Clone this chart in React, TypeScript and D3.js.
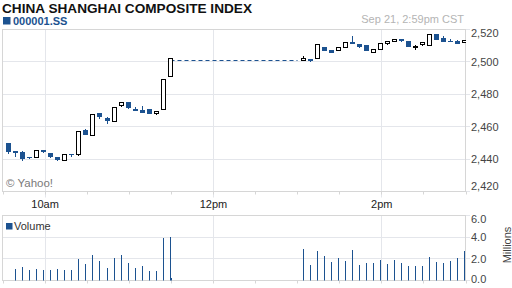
import React from "react";
import * as d3 from "d3";

// ---------- data ----------
const title = "CHINA SHANGHAI COMPOSITE INDEX";
const symbol = "000001.SS";
const timestamp = "Sep 21, 2:59pm CST";
const credit = "© Yahoo!";
const volumeLabel = "Volume";
const volumeUnit = "Millions";

const sessionStart = "09:30";
const sessionEnd = "15:00";
const amStart = "09:30";
const pmStart = "13:00";
const lunchStart = "11:30";
const barMinutes = 5;

// [open, high, low, close]
const amCandles: [number, number, number, number][] = [
  [2450.0, 2450.0, 2443.4, 2444.5],
  [2444.7, 2445.2, 2441.0, 2443.6],
  [2444.2, 2444.8, 2439.0, 2440.1],
  [2441.2, 2441.2, 2439.9, 2440.6],
  [2440.9, 2445.2, 2440.9, 2445.2],
  [2445.4, 2445.6, 2444.0, 2444.0],
  [2443.8, 2443.8, 2440.7, 2441.6],
  [2441.1, 2441.1, 2438.6, 2439.0],
  [2439.3, 2443.1, 2439.3, 2443.1],
  [2443.4, 2443.4, 2441.6, 2442.9],
  [2442.8, 2457.0, 2442.1, 2457.0],
  [2457.8, 2458.6, 2454.6, 2454.6],
  [2454.7, 2467.7, 2454.7, 2467.7],
  [2468.3, 2468.3, 2464.9, 2465.6],
  [2465.2, 2466.2, 2461.9, 2463.1],
  [2463.3, 2472.0, 2463.3, 2472.0],
  [2473.2, 2475.1, 2472.3, 2475.1],
  [2475.1, 2475.1, 2471.2, 2471.2],
  [2470.9, 2472.3, 2469.9, 2469.9],
  [2470.3, 2472.9, 2468.6, 2468.6],
  [2470.9, 2470.9, 2468.1, 2468.1],
  [2468.1, 2469.5, 2467.4, 2469.5],
  [2470.7, 2489.3, 2470.7, 2489.3],
  [2491.1, 2502.2, 2491.1, 2502.2],
];

const pmCandles: [number, number, number, number][] = [
  [2500.6, 2503.6, 2500.6, 2502.0],
  [2501.6, 2501.8, 2500.2, 2500.2],
  [2502.1, 2510.9, 2502.1, 2510.9],
  [2509.5, 2509.5, 2506.9, 2506.9],
  [2507.5, 2507.5, 2505.2, 2505.9],
  [2507.0, 2509.4, 2507.0, 2508.6],
  [2509.0, 2512.1, 2509.0, 2512.1],
  [2512.0, 2516.0, 2511.0, 2511.0],
  [2511.0, 2511.0, 2508.4, 2509.3],
  [2510.3, 2510.3, 2506.7, 2506.7],
  [2505.8, 2507.8, 2505.8, 2507.8],
  [2507.7, 2511.5, 2507.7, 2511.5],
  [2511.4, 2512.7, 2510.2, 2512.7],
  [2512.6, 2514.0, 2512.6, 2514.0],
  [2514.0, 2514.0, 2512.0, 2513.0],
  [2513.1, 2513.1, 2508.9, 2509.6],
  [2508.6, 2510.4, 2507.5, 2509.3],
  [2510.6, 2511.9, 2510.0, 2511.9],
  [2510.7, 2517.2, 2510.7, 2517.2],
  [2517.3, 2517.3, 2513.4, 2513.4],
  [2514.9, 2515.7, 2512.7, 2512.7],
  [2513.2, 2514.0, 2512.4, 2512.4],
  [2513.2, 2513.7, 2511.4, 2511.4],
  [2512.0, 2513.3, 2512.0, 2513.3],
];

// millions of shares
const amVolume = [
  0, 1.09, 1.27, 1.0, 1.09, 1.0, 1.0, 1.09, 1.0, 1.0, 1.98, 1.55,
  2.38, 1.83, 1.18, 2.08, 2.38, 1.64, 1.18, 1.37, 0.9, 0.9, 3.92, 4.04,
];
const pmVolume = [
  2.91, 1.43, 2.75, 2.29, 1.74, 2.08, 1.83, 2.82, 1.43, 1.64, 1.64, 1.89,
  1.55, 1.89, 1.64, 1.37, 1.37, 1.37, 2.17, 1.74, 1.64, 1.83, 2.08, 2.72,
];
const lunchVolume = 0.1;
const lunchLevel = 2500.7;

const priceDomain = [2420, 2520];
const priceTicks = [2420, 2440, 2460, 2480, 2500, 2520];
const volumeDomain = [0, 6];
const volumeTicks = [0, 2, 4, 6];
const timeLabels = [
  { t: "10:00", label: "10am" },
  { t: "12:00", label: "12pm" },
  { t: "14:00", label: "2pm" },
];
const minorTickMinutes = 30;

// ---------- styles ----------
const BLUE = "#1c5290";
const GRID = "#e4e6eb";
const BORDER = "#d6d6d6";
const FONT = "Arial, 'Liberation Sans', sans-serif";

export default function App() {
  const parse = d3.timeParse("%H:%M");
  const plotLeft = 3;
  const plotRight = 466;
  const priceTop = 29.5;
  const priceBottom = 191.5;
  const volTop = 215.5;
  const volBottom = 280.5;
  const labelX = 471;

  const x = d3
    .scaleTime()
    .domain([parse(sessionStart)!, parse(sessionEnd)!])
    .range([plotLeft, plotRight]);
  const y = d3.scaleLinear().domain(priceDomain).range([priceBottom, priceTop]);
  const yv = d3.scaleLinear().domain(volumeDomain).range([volBottom, volTop]);

  const barOffset = 5.3;
  const px = (v: number) => Math.floor(v) + 0.5;
  const barTime = (start: string, i: number) =>
    d3.timeMinute.offset(parse(start)!, i * barMinutes);
  const cxOf = (start: string, i: number) =>
    Math.round(x(barTime(start, i)) + barOffset) + 0.5;

  const minorTicks = d3.timeMinute
    .every(minorTickMinutes)!
    .range(parse(sessionStart)!, d3.timeMinute.offset(parse(sessionEnd)!, 1));

  const renderCandles = (data: [number, number, number, number][], start: string, key: string) =>
    data.map(([o, h, l, c], i) => {
      const cx = cxOf(start, i);
      const up = c >= o;
      const top = y(Math.max(o, c));
      const bot = y(Math.min(o, c));
      const hgt = Math.max(1, Math.round(bot - top));
      return (
        <g key={key + i}>
          <line
            x1={cx}
            x2={cx}
            y1={Math.round(y(h))}
            y2={Math.round(y(l))}
            stroke={up ? "#000" : BLUE}
            strokeWidth={1}
          />
          {up ? (
            <rect
              x={cx - 2}
              y={px(top)}
              width={4}
              height={hgt}
              fill="#fff"
              stroke="#000"
              strokeWidth={1}
            />
          ) : (
            <rect x={cx - 2.5} y={Math.round(top)} width={5} height={hgt} fill={BLUE} />
          )}
        </g>
      );
    });

  const renderVolume = (data: number[], start: string, key: string) =>
    data.map((v, i) =>
      v > 0 ? (
        <line
          key={key + i}
          x1={cxOf(start, i)}
          x2={cxOf(start, i)}
          y1={volBottom}
          y2={Math.round(yv(v))}
          stroke={BLUE}
          strokeWidth={1}
        />
      ) : null
    );

  const lastAm = cxOf(amStart, amCandles.length - 1);
  const lunchX = px(x(parse(lunchStart)!));

  return (
    <svg
      width={512}
      height={288}
      style={{ position: "absolute", left: 0, top: 0, background: "#fff" }}
      fontFamily={FONT}
    >
      <defs>
        <clipPath id="plotClip">
          <rect x={plotLeft} y={0} width={plotRight - plotLeft} height={288} />
        </clipPath>
      </defs>
      <rect width={512} height={288} fill="#fff" />

      {/* header */}
      <text
        x={2}
        y={12.5}
        fontSize={13.5}
        fontWeight="bold"
        fill="#111"
        textLength={250}
        lengthAdjust="spacingAndGlyphs"
      >
        {title}
      </text>
      <rect x={3} y={17} width={7.5} height={7.5} fill={BLUE} />
      <text x={13} y={24.5} fontSize={11} fontWeight="bold" fill={BLUE}>
        {symbol}
      </text>
      <text x={464} y={23} fontSize={11} fill="#b4b4b4" textAnchor="end">
        {timestamp}
      </text>

      {/* price panel grid */}
      {priceTicks.map((p) => (
        <line key={"pg" + p} x1={plotLeft} x2={plotRight + 4} y1={px(y(p))} y2={px(y(p))} stroke={GRID} />
      ))}
      {timeLabels.map((d) => (
        <line
          key={"pv" + d.t}
          x1={px(x(parse(d.t)!))}
          x2={px(x(parse(d.t)!))}
          y1={priceTop}
          y2={priceBottom + 6}
          stroke={GRID}
        />
      ))}
      {minorTicks.map((t, i) => (
        <line key={"pmt" + i} x1={px(x(t))} x2={px(x(t))} y1={priceBottom} y2={priceBottom + 3} stroke={BORDER} />
      ))}
      <rect
        x={plotLeft - 0.5}
        y={priceTop}
        width={plotRight - plotLeft}
        height={priceBottom - priceTop}
        fill="none"
        stroke={BORDER}
      />
      {priceTicks.map((p) => (
        <text
          key={"pl" + p}
          x={labelX}
          y={Math.min(Math.max(y(p), 33), 186.5)}
          dy="0.35em"
          fontSize={11}
          fill="#444"
        >
          {d3.format(",")(p)}
        </text>
      ))}
      <text x={6} y={186.5} fontSize={11.5} fill="#7a7a7a">
        {credit}
      </text>

      {/* candles */}
      <g clipPath="url(#plotClip)">
        <line
          x1={lastAm}
          x2={px(x(parse(pmStart)!))}
          y1={px(y(lunchLevel))}
          y2={px(y(lunchLevel))}
          stroke={BLUE}
          strokeDasharray="4,3"
        />
        {renderCandles(amCandles, amStart, "am")}
        {renderCandles(pmCandles, pmStart, "pm")}
      </g>

      {/* x labels */}
      {timeLabels.map((d) => (
        <text
          key={"xl" + d.t}
          x={x(parse(d.t)!)}
          y={208}
          fontSize={11}
          fill="#222"
          textAnchor="middle"
        >
          {d.label}
        </text>
      ))}

      {/* volume panel grid */}
      {volumeTicks.map((v) => (
        <line key={"vg" + v} x1={plotLeft} x2={plotRight + 4} y1={px(yv(v))} y2={px(yv(v))} stroke={GRID} />
      ))}
      {timeLabels.map((d) => (
        <line
          key={"vv" + d.t}
          x1={px(x(parse(d.t)!))}
          x2={px(x(parse(d.t)!))}
          y1={volTop}
          y2={volBottom}
          stroke={GRID}
        />
      ))}
      {minorTicks.map((t, i) => (
        <line key={"vmt" + i} x1={px(x(t))} x2={px(x(t))} y1={volBottom} y2={volBottom + 3} stroke={BORDER} />
      ))}
      <rect
        x={plotLeft - 0.5}
        y={volTop}
        width={plotRight - plotLeft}
        height={volBottom - volTop}
        fill="none"
        stroke={BORDER}
      />
      {volumeTicks.map((v) => (
        <text
          key={"vl" + v}
          x={labelX}
          y={Math.min(Math.max(yv(v), 219.5), 279)}
          dy="0.35em"
          fontSize={11}
          fill="#444"
        >
          {d3.format(".1f")(v)}
        </text>
      ))}
      <text
        transform={`translate(507,245) rotate(-90)`}
        fontSize={11}
        fill="#444"
        textAnchor="middle"
        dy="0.35em"
      >
        {volumeUnit}
      </text>
      <rect x={6} y={223} width={6.5} height={6.5} fill={BLUE} />
      <text x={14} y={230} fontSize={11} fill="#333">
        {volumeLabel}
      </text>

      {/* volume bars */}
      {renderVolume(amVolume, amStart, "av")}
      {renderVolume(pmVolume, pmStart, "pv")}
      <line
        x1={lunchX}
        x2={lunchX}
        y1={volBottom}
        y2={Math.round(yv(lunchVolume)) - 1}
        stroke={BLUE}
      />
    </svg>
  );
}
